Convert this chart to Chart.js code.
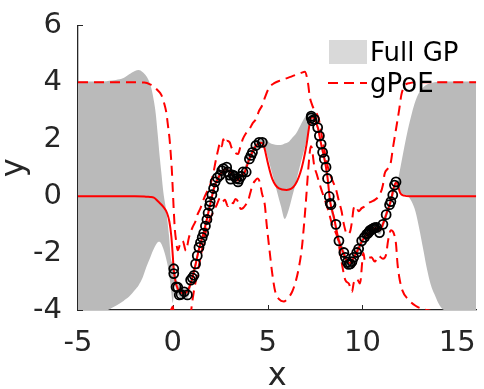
<!doctype html>
<html lang="en">
<head>
<meta charset="UTF-8" />
<title>Full GP vs gPoE</title>
<script src="https://cdn.jsdelivr.net/npm/chart.js"></script>
<style>
  body { margin: 0; background: #fff; }
  #wrap { width: 484px; height: 389px; }
</style>
</head>
<body>
<div id="wrap"><canvas id="gpChart" width="484" height="389"></canvas></div>
<script>
// ticks
const xTicks = [-5, 0, 5, 10, 15];
const yTicks = [-4, -2, 0, 2, 4, 6];

// Full GP band (grey area)
const gpX = [-5, -4, -3.5, -3.2, -3, -2.6, -2.3, -2.0, -1.8, -1.6, -1.4, -1.2, -1.1, -1.0, -0.9, -0.8, -0.7, -0.6, -0.5, -0.35, -0.2, -0.1,
  0.0, 0.1, 0.2, 0.3, 0.45, 0.6, 0.8, 1.0, 1.2, 1.4, 1.6, 1.8, 2.0, 2.2, 2.4, 2.6, 2.8, 3.0, 3.2, 3.4, 3.6, 3.8, 4.0, 4.2, 4.4, 4.6, 4.8,
  4.9, 5.1, 5.3, 5.5, 5.7, 5.9, 6.1, 6.3, 6.5, 6.7, 6.9, 7.1, 7.3, 7.4, 7.55, 7.7, 7.85, 8.0, 8.15, 8.3, 8.5, 8.7, 8.9, 9.1, 9.3,
  9.5, 9.7, 9.9, 10.1, 10.3, 10.5, 10.7, 10.9, 11.1, 11.3, 11.5, 11.7, 11.85, 12.0, 12.2, 12.4, 12.6, 12.8, 13.0, 13.2, 13.4, 13.6,
  13.8, 14.0, 14.3, 15, 16];
const gpUpper = [4.03, 4.03, 4.04, 4.06, 4.08, 4.15, 4.28, 4.4, 4.43, 4.36, 4.22, 3.95, 3.7, 3.35, 2.9, 2.2, 1.45, 0.8, 0.15, -0.5, -1.4, -2.2,
  -2.35, -2.5, -2.95, -3.1, -3.25, -3.25, -3.2, -2.75, -2.25, -1.65, -1.2, -0.65, -0.05, 0.5, 0.8, 1.0, 1.12, 1.0, 0.85, 0.68, 0.9, 1.05, 1.45, 1.7, 1.92, 2.02, 2.0,
  2.0, 1.88, 1.82, 1.8, 1.8, 1.85, 1.9, 2.05, 2.2, 2.45, 2.7, 2.9, 3.0, 2.95, 2.75, 2.4, 1.85, 1.45, 0.9, -0.05, -0.6, -1.3, -1.65, -2.0, -2.2,
  -2.0, -1.8, -1.5, -1.25, -1.15, -1.0, -0.95, -1.05, -0.8, -0.4, 0.0, 0.45, 0.55, 1.0, 1.7, 2.35, 2.9, 3.35, 3.65, 3.82, 3.92, 3.97,
  4.0, 4.02, 4.03, 4.03, 4.03];
const gpLower = [-4.05, -4.05, -4.02, -3.92, -3.85, -3.68, -3.53, -3.3, -3.13, -2.88, -2.5, -2.17, -2.0, -1.85, -1.72, -1.62, -1.6, -1.68, -1.85, -2.2, -2.7, -3.25,
  -3.75, -3.1, -3.35, -3.5, -3.6, -3.6, -3.55, -3.05, -2.55, -1.95, -1.5, -0.95, -0.35, 0.2, 0.5, 0.72, 0.85, 0.72, 0.57, 0.4, 0.6, 0.75, 1.15, 1.4, 1.65, 1.78, 1.7,
  1.6, 1.15, 0.65, 0.15, -0.35, -0.8, -0.5, 0.0, 0.5, 1.05, 1.55, 2.1, 2.6, 2.65, 2.5, 2.1, 1.55, 1.15, 0.55, -0.4, -0.95, -1.65, -2.0, -2.35, -2.55,
  -2.35, -2.15, -1.85, -1.55, -1.45, -1.3, -1.25, -1.35, -1.1, -0.7, -0.35, 0.15, 0.3, 0.15, 0.05, 0.0, -0.2, -0.55, -1.15, -1.85, -2.55, -3.1,
  -3.45, -3.75, -4.0, -4.05, -4.05];

// gPoE mean (solid red)
const meanX = [-5, -2, -1.5, -1.2, -1.0, -0.77, -0.52, -0.3, -0.18, -0.08, 0.0, 0.05, 0.2, 0.4, 0.6, 0.8, 1.0, 1.2, 1.4, 1.6, 1.8, 2.0, 2.2,
  2.4, 2.6, 2.8, 3.0, 3.2, 3.4, 3.6, 3.8, 4.0, 4.2, 4.4, 4.6, 4.75, 4.9, 5.0, 5.25, 5.6, 6.0, 6.45, 6.8, 7.05, 7.22, 7.35, 7.5, 7.65,
  7.8, 8.0, 8.15, 8.3, 8.5, 8.75, 9.0, 9.2, 9.35, 9.55, 9.75, 10.0, 10.25, 10.5, 10.7, 10.9, 11.1, 11.3, 11.5, 11.65, 11.8, 11.9,
  12.0, 12.2, 12.5, 16];
const meanY = [0, 0, -0.01, -0.03, -0.05, -0.19, -0.36, -0.6, -0.9, -1.4, -2.1, -2.6, -3.15, -3.38, -3.42, -3.3, -2.95, -2.4, -1.8, -1.35, -0.8, -0.2, 0.35,
  0.65, 0.85, 0.95, 0.85, 0.7, 0.55, 0.7, 0.85, 1.25, 1.55, 1.78, 1.88, 1.85, 1.5, 1.2, 0.6, 0.27, 0.22, 0.4, 1.0, 1.8, 2.55, 2.8, 2.65, 2.4,
  1.9, 1.3, 0.7, -0.2, -0.75, -1.55, -2.0, -2.3, -2.35, -2.15, -1.9, -1.55, -1.35, -1.2, -1.12, -1.2, -0.95, -0.55, -0.15, 0.3, 0.5, 0.3,
  0.1, 0.02, 0, 0];

// gPoE upper bound (dashed red)
const upX = [-5, -2, -1.5, -1.2, -1.0, -0.8, -0.6, -0.45, -0.34, -0.25, -0.17, -0.1, -0.05, 0.0, 0.05, 0.1, 0.17, 0.26, 0.4, 0.52, 0.69, 0.85,
  1.03, 1.2, 1.3, 1.46, 1.63, 1.8, 1.95, 2.15, 2.25, 2.4, 2.5, 2.58, 2.66, 2.75, 2.84, 3.0, 3.1, 3.26, 3.44, 3.55, 3.69, 3.85, 4.04,
  4.2, 4.38, 4.55, 4.72, 4.85, 5.07, 5.35, 5.75, 6.25, 6.8, 6.96, 7.13, 7.22, 7.35, 7.45, 7.55, 7.7, 7.85, 8.0, 8.15, 8.3, 8.45, 8.6,
  8.75, 8.9, 9.02, 9.2, 9.36, 9.45, 9.54, 9.65, 9.8, 9.96, 10.13, 10.3, 10.48, 10.65, 10.9, 11.08, 11.17, 11.34, 11.5, 11.6, 11.77,
  11.94, 12.05, 12.2, 12.46, 13, 16];
const upY = [4, 4, 3.99, 3.93, 3.85, 3.72, 3.55, 3.25, 2.93, 2.45, 2.0, 1.4, 0.9, 0.2, -0.5, -1.1, -1.55, -1.9, -1.65, -1.57, -1.92, -1.45,
  -1.11, -0.88, -0.65, -0.42, -0.1, 0.15, 0.35, 0.85, 1.2, 1.66, 1.89, 1.75, 2.0, 1.85, 1.95, 1.89, 1.7, 1.54, 1.48, 1.7, 2.0, 2.2, 2.35,
  2.55, 2.7, 3.0, 3.2, 3.45, 3.8, 3.97, 4.08, 4.2, 4.34, 4.37, 3.97, 3.5, 3.2, 3.05, 2.95, 2.7, 2.15, 1.6, 1.1, 0.75, 0.5, 0.25,
  -0.15, -0.53, -0.99, -1.34, -1.22, -0.88, -0.42, -0.35, -0.53, -0.42, -0.36, -0.25, -0.19, -0.13, 0.04, 0.39, 0.79, 0.97, 1.2, 1.66, 2.35,
  3.05, 3.55, 3.85, 3.97, 4.0, 4.0];

// gPoE lower bound (dashed red)
const loX = [-5, -2, -1.2, -0.8, -0.4, -0.15, 0.0, 0.06, 0.3, 0.6, 0.85, 0.97, 1.05, 1.12, 1.29, 1.46, 1.63, 1.8, 2.06, 2.32, 2.49, 2.6,
  2.75, 2.9, 3.05, 3.18, 3.3, 3.44, 3.58, 3.7, 3.85, 3.96, 4.08, 4.2, 4.35, 4.47, 4.58, 4.7, 4.85, 4.95, 5.1, 5.25, 5.4, 5.6, 5.85,
  6.05, 6.3, 6.5, 6.65, 6.8, 6.92, 7.04, 7.15, 7.28, 7.33, 7.45, 7.6, 7.8, 8.0, 8.2, 8.4, 8.7, 8.85, 8.95, 9.1, 9.28, 9.45, 9.54,
  9.7, 9.87, 10.05, 10.13, 10.3, 10.48, 10.65, 10.85, 11.08, 11.25, 11.35, 11.5, 11.65, 11.77, 11.85, 11.94, 12.1, 12.45, 12.8, 13.2,
  13.6, 14.0, 16];
const loY = [-4.1, -4.1, -4.12, -4.2, -4.2, -4.08, -3.88, -4.2, -4.9, -5.0, -4.6, -4.0, -3.6, -3.3, -2.72, -2.15, -1.57, -1.11, -0.65, -0.3, -0.07, -0.2,
  -0.13, -0.35, -0.2, -0.25, -0.1, -0.19, -0.45, -0.42, -0.3, -0.19, 0.1, 0.39, 0.55, 0.62, 0.5, 0.1, -0.3, -1.0, -1.9, -2.75, -3.35, -3.62, -3.7,
  -3.6, -3.35, -2.95, -2.5, -1.85, -1.0, 0.0, 1.0, 1.75, 1.7, 1.1, 0.75, 0.3, -0.1, -0.5, -1.0, -1.5, -2.1, -2.5, -2.95, -3.07, -3.36, -3.05,
  -2.9, -3.07, -2.0, -2.26, -2.18, -2.15, -2.3, -2.1, -2.2, -2.05, -1.57, -1.2, -1.3, -1.68, -2.38, -2.84, -3.3, -3.65, -3.85, -3.97,
  -4.03, -4.1, -4.1];

// observations (circles)
const obsX = [0.05, 0.05, 0.17, 0.26, 0.34, 0.43, 0.6, 0.77, 0.94, 1.03, 1.12, 1.2, 1.29, 1.38, 1.46, 1.55, 1.63, 1.72, 1.8, 1.86,
  1.94, 1.97, 2.06, 2.15, 2.23, 2.35, 2.49, 2.58, 2.66, 2.84, 2.9, 3.0, 3.05, 3.18, 3.25, 3.35, 3.44, 3.5, 3.6, 3.7, 3.87, 4.04,
  4.12, 4.2, 4.38, 4.55, 4.72,
  7.3, 7.3, 7.35, 7.47, 7.64, 7.73, 7.82, 7.9, 7.99, 8.08, 8.16, 8.25, 8.3, 8.34, 8.6, 8.76, 9.02, 9.1, 9.19, 9.27, 9.36, 9.45,
  9.54, 9.7, 9.8, 9.96, 10.1, 10.22, 10.3, 10.35, 10.4, 10.48, 10.56, 10.6, 10.65, 10.75, 10.9, 11.08, 11.25, 11.43, 11.5, 11.6,
  11.69, 11.77];
const obsY = [-2.55, -2.72, -3.19, -3.2, -3.47, -3.45, -3.36, -3.47, -2.95, -2.87, -2.78, -2.38, -2.09, -1.8, -1.63, -1.45, -1.3, -1.05, -0.82, -0.59,
  -0.33, -0.19, 0.05, 0.27, 0.5, 0.65, 0.74, 0.9, 0.97, 1.02, 0.85, 0.74, 0.6, 0.74, 0.7, 0.62, 0.5, 0.6, 0.7, 0.85, 0.85, 1.31,
  1.43, 1.54, 1.78, 1.89, 1.89,
  2.75, 2.81, 2.65, 2.7, 2.41, 2.12, 1.83, 1.54, 1.31, 1.02, 0.62, -0.01, -0.25, -0.3, -0.99, -1.57, -1.98, -2.15, -2.32, -2.4, -2.38, -2.3,
  -2.15, -1.98, -1.85, -1.57, -1.45, -1.34, -1.3, -1.25, -1.2, -1.17, -1.15, -1.12, -1.11, -1.1, -1.28, -0.99, -0.65, -0.3, -0.19, 0.04,
  0.39, 0.5];

const pts = (xs, ys) => xs.map((x, i) => ({ x: x, y: ys[i] }));

const FONT = 'DejaVu Sans';
const TEXT = '#262626';

// ticks drawn inside the axes, under the data like the original
const innerTicks = {
  id: 'innerTicks',
  beforeDatasetsDraw(chart) {
    const { ctx, chartArea, scales } = chart;
    ctx.save();
    ctx.strokeStyle = TEXT;
    ctx.lineWidth = 1;
    ctx.beginPath();
    xTicks.forEach((v) => {
      const px = Math.round(scales.x.getPixelForValue(v)) + 0.5;
      ctx.moveTo(px, chartArea.bottom);
      ctx.lineTo(px, chartArea.bottom - 5);
    });
    yTicks.forEach((v) => {
      const py = Math.round(scales.y.getPixelForValue(v)) + 0.5;
      ctx.moveTo(chartArea.left, py);
      ctx.lineTo(chartArea.left + 5, py);
    });
    ctx.stroke();
    ctx.restore();
  },
};

// legend in the top right corner, no frame
const gpLegend = {
  id: 'gpLegend',
  afterDraw(chart) {
    const ctx = chart.ctx;
    ctx.save();
    ctx.fillStyle = '#d9d9d9';
    ctx.fillRect(329, 40, 38, 24);
    ctx.strokeStyle = '#ff0000';
    ctx.lineWidth = 2;
    ctx.setLineDash([10, 6]);
    ctx.beginPath();
    ctx.moveTo(328, 83);
    ctx.lineTo(367, 83);
    ctx.stroke();
    ctx.setLineDash([]);
    ctx.fillStyle = '#000';
    ctx.font = '26px "' + FONT + '"';
    ctx.textBaseline = 'alphabetic';
    ctx.textAlign = 'left';
    ctx.fillText('Full GP', 370, 61);
    ctx.fillText('gPoE', 370, 92);
    ctx.restore();
  },
};

const ctx = document.getElementById('gpChart').getContext('2d');
new Chart(ctx, {
  type: 'scatter',
  data: {
    datasets: [
      {
        label: 'Full GP',
        data: pts(gpX, gpUpper),
        showLine: true,
        borderColor: 'rgba(0,0,0,0)',
        borderWidth: 0,
        backgroundColor: '#bababa',
        pointRadius: 0,
        fill: '+1',
        cubicInterpolationMode: 'monotone',
        order: 5,
      },
      {
        label: 'Full GP lower',
        data: pts(gpX, gpLower),
        showLine: true,
        borderColor: 'rgba(0,0,0,0)',
        borderWidth: 0,
        pointRadius: 0,
        fill: false,
        cubicInterpolationMode: 'monotone',
        order: 6,
      },
      {
        label: 'gPoE',
        data: pts(upX, upY),
        showLine: true,
        borderColor: '#ff0000',
        borderWidth: 2,
        borderDash: [10, 6],
        pointRadius: 0,
        fill: false,
        cubicInterpolationMode: 'monotone',
        order: 3,
      },
      {
        label: 'gPoE lower',
        data: pts(loX, loY),
        showLine: true,
        borderColor: '#ff0000',
        borderWidth: 2,
        borderDash: [10, 6],
        pointRadius: 0,
        fill: false,
        cubicInterpolationMode: 'monotone',
        order: 3,
      },
      {
        label: 'gPoE mean',
        data: pts(meanX, meanY),
        showLine: true,
        borderColor: '#ff0000',
        borderWidth: 2,
        pointRadius: 0,
        fill: false,
        cubicInterpolationMode: 'monotone',
        order: 2,
      },
      {
        label: 'data',
        data: pts(obsX, obsY),
        showLine: false,
        pointRadius: 4.5,
        pointBorderWidth: 1.8,
        pointBorderColor: '#000',
        pointBackgroundColor: 'rgba(0,0,0,0)',
        order: 1,
      },
    ],
  },
  options: {
    responsive: false,
    devicePixelRatio: 1,
    animation: false,
    events: [],
    layout: { padding: { top: 21, right: 0, left: 0, bottom: 0 } },
    plugins: {
      legend: { display: false },
      tooltip: { enabled: false },
    },
    scales: {
      x: {
        type: 'linear',
        min: -5,
        max: 16,
        afterBuildTicks: (scale) => {
          scale.ticks = xTicks.map((v) => ({ value: v }));
        },
        afterFit: (scale) => {
          scale.height = 79;
        },
        grid: { display: false },
        border: { display: true, color: TEXT, width: 1.3 },
        ticks: {
          color: TEXT,
          font: { family: FONT, size: 29 },
          padding: 8,
          maxRotation: 0,
        },
        title: {
          display: true,
          text: 'x',
          color: TEXT,
          font: { family: FONT, size: 32, lineHeight: 0.8 },
          padding: 0,
        },
      },
      y: {
        type: 'linear',
        min: -4,
        max: 6,
        afterBuildTicks: (scale) => {
          scale.ticks = yTicks.map((v) => ({ value: v }));
        },
        afterFit: (scale) => {
          scale.width = 78;
        },
        grid: { display: false },
        border: { display: true, color: TEXT, width: 1.3 },
        ticks: {
          color: TEXT,
          font: { family: FONT, size: 29 },
          padding: 8,
        },
        title: {
          display: true,
          text: 'y',
          color: TEXT,
          font: { family: FONT, size: 32, lineHeight: 0.9 },
          padding: 0,
        },
      },
    },
  },
  plugins: [innerTicks, gpLegend],
});
</script>
</body>
</html>
